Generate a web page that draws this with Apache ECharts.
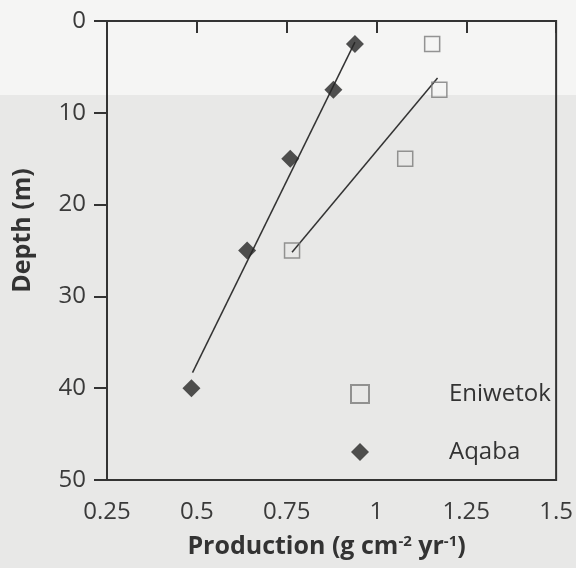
<!DOCTYPE html>
<html>
<head>
<meta charset="utf-8">
<script src="https://cdn.jsdelivr.net/npm/echarts@6/dist/echarts.min.js"></script>
<style>
  html, body { margin: 0; padding: 0; background: #f5f5f4; }
  #chart { width: 576px; height: 568px; }
</style>
</head>
<body>
<div id="chart"></div>
<script>
// Coral carbonate production versus depth at two reef sites
const depthTicks = [0, 10, 20, 30, 40, 50];
const productionTicks = [0.25, 0.5, 0.75, 1, 1.25, 1.5];

const aqabaDepth = [2.5, 7.5, 15, 25, 40];
const aqabaProduction = [0.94, 0.88, 0.76, 0.64, 0.485];

const eniwetokDepth = [2.5, 7.5, 15, 25];
const eniwetokProduction = [1.155, 1.175, 1.08, 0.765];

// End points of the fitted trend lines
const aqabaFitDepth = [38.3, 2.3];
const aqabaFitProduction = [0.488, 0.94];
const eniwetokFitDepth = [25.2, 6.2];
const eniwetokFitProduction = [0.765, 1.17];

const pairs = (xs, ys) => xs.map((x, i) => [x, ys[i]]);

const chart = echarts.init(document.getElementById('chart'));
const axisColor = '#333';
const font = '"Open Sans", "Noto Sans", sans-serif';

chart.setOption({
  backgroundColor: '#f5f5f4',
  animation: false,
  graphic: [{
    type: 'rect',
    z: -10,
    silent: true,
    shape: { x: 0, y: 95, width: 576, height: 473 },
    style: { fill: '#e8e8e7' }
  }],
  grid: {
    left: 107, right: 17, top: 21, bottom: 88,
    show: true,
    borderColor: axisColor,
    borderWidth: 2,
    backgroundColor: 'transparent'
  },
  legend: {
    orient: 'vertical',
    left: 350,
    top: 382,
    padding: 0,
    itemWidth: 18,
    itemHeight: 18,
    itemGap: 34,
    data: ['Eniwetok', 'Aqaba'],
    textStyle: {
      fontFamily: font,
      fontSize: 24,
      color: '#333',
      padding: [0, 0, 0, 75]
    }
  },
  xAxis: {
    type: 'value',
    min: 0.25,
    max: 1.5,
    interval: 0.25,
    name: '{b|Production (g cm}{s|-2}{b| yr}{s|-1}{b|)}',
    nameLocation: 'middle',
    nameGap: 54,
    nameTextStyle: {
      padding: [0, 10, 0, 0],
      rich: {
        b: { fontFamily: font, fontSize: 25, fontWeight: 'bold', color: '#333' },
        s: { fontFamily: font, fontSize: 15, fontWeight: 'bold', color: '#333', verticalAlign: 'top', padding: [0, 0, 10, 0] }
      }
    },
    axisLine: { show: true, lineStyle: { color: axisColor, width: 2 } },
    axisTick: { show: true, inside: false, length: 12, lineStyle: { color: axisColor, width: 2 } },
    axisLabel: {
      margin: 20,
      fontFamily: font,
      fontSize: 24,
      color: '#3a3a3a',
      formatter: v => String(productionTicks.find(t => Math.abs(t - v) < 1e-9) ?? v)
    },
    splitLine: { show: false }
  },
  yAxis: {
    type: 'value',
    inverse: true,
    min: 0,
    max: 50,
    interval: 10,
    name: 'Depth (m)',
    nameLocation: 'middle',
    nameGap: 72,
    nameTextStyle: {
      fontFamily: font,
      fontSize: 25,
      fontWeight: 'bold',
      color: '#333',
      padding: [0, 0, 0, 40]
    },
    axisLine: { show: true, lineStyle: { color: axisColor, width: 2 } },
    axisTick: { show: true, inside: false, length: 13, lineStyle: { color: axisColor, width: 2 } },
    axisLabel: {
      margin: 21,
      fontFamily: font,
      fontSize: 24,
      color: '#3a3a3a',
      formatter: v => String(depthTicks.find(t => t === v) ?? v)
    },
    splitLine: { show: false }
  },
  series: [
    {
      name: 'Aqaba fit',
      type: 'line',
      data: pairs(aqabaFitProduction, aqabaFitDepth),
      symbol: 'none',
      lineStyle: { color: '#333', width: 1.5 },
      z: 2
    },
    {
      name: 'Eniwetok fit',
      type: 'line',
      data: pairs(eniwetokFitProduction, eniwetokFitDepth),
      symbol: 'none',
      lineStyle: { color: '#333', width: 1.5 },
      z: 2
    },
    {
      name: 'Eniwetok',
      type: 'scatter',
      data: pairs(eniwetokProduction, eniwetokDepth),
      symbol: 'rect',
      symbolSize: 15,
      itemStyle: { color: 'rgba(0,0,0,0)', borderColor: '#7a7a7a', borderWidth: 1.5 },
      z: 3
    },
    {
      name: 'Aqaba',
      type: 'scatter',
      data: pairs(aqabaProduction, aqabaDepth),
      symbol: 'diamond',
      symbolSize: 18,
      itemStyle: { color: '#262626' },
      z: 4
    }
  ]
});
</script>
</body>
</html>
